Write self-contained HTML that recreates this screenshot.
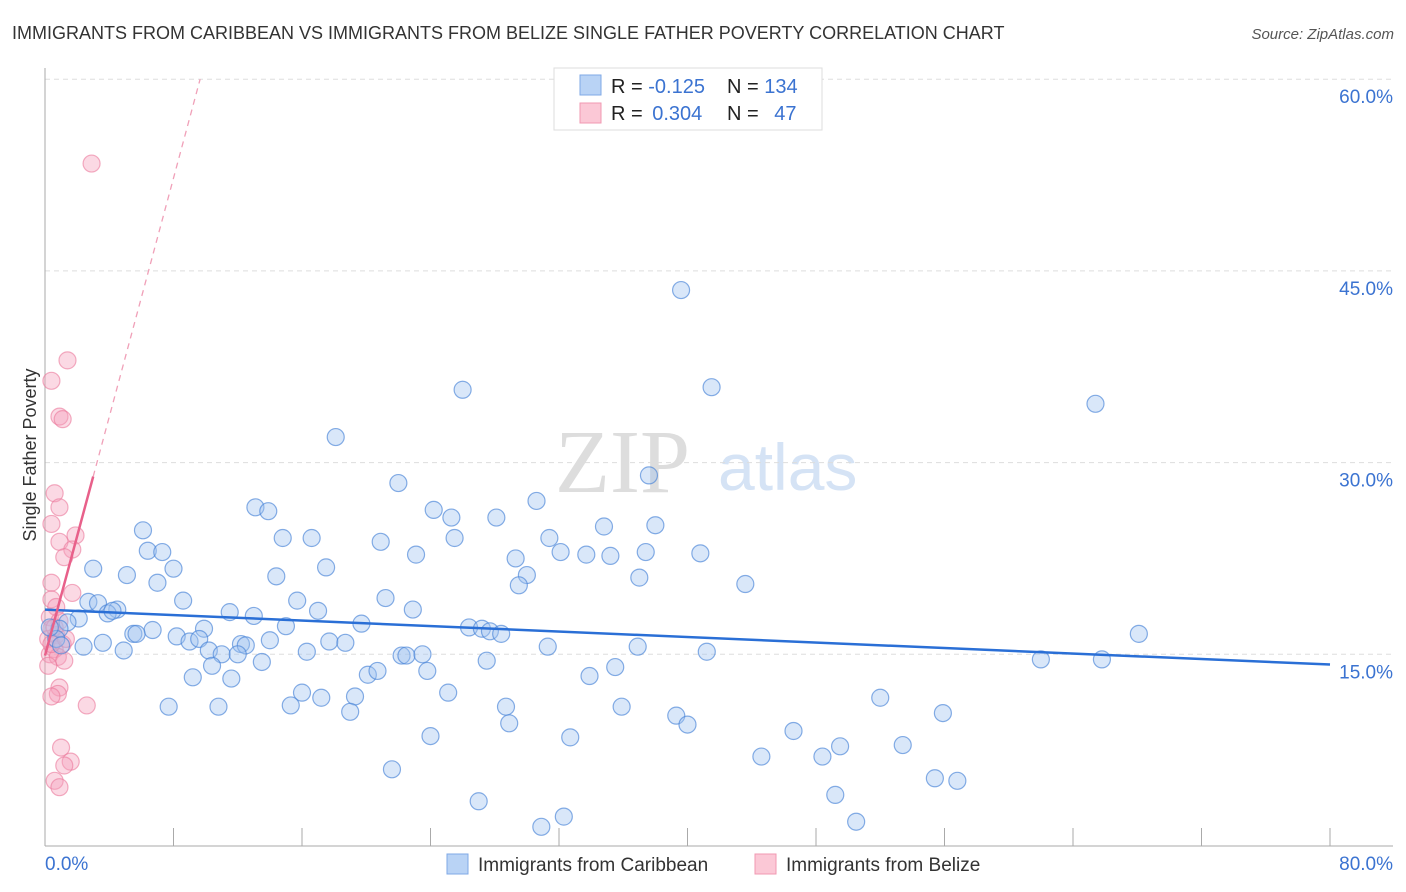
<!DOCTYPE html>
<html><head><meta charset="utf-8"><style>
body{margin:0;background:#fff;font-family:"Liberation Sans",sans-serif}
svg{display:block}
</style></head><body>
<svg id="chart" width="1406" height="892" xmlns="http://www.w3.org/2000/svg">
<text x="12" y="39" font-size="18" fill="#333">IMMIGRANTS FROM CARIBBEAN VS IMMIGRANTS FROM BELIZE SINGLE FATHER POVERTY CORRELATION CHART</text>
<text x="1394" y="39" font-size="15" fill="#555" font-style="italic" text-anchor="end">Source: ZipAtlas.com</text>
<g>
<text x="555" y="492" font-size="90" fill="#ddd" font-family="Liberation Serif,serif">ZIP</text>
<text x="718" y="490" font-size="66" fill="#d5e3f5">atlas</text>
</g>
<g id="grid"></g>
<g id="axes"></g>
<g id="pinkPts"></g>
<g id="bluePts"></g>
<g id="trends"></g>
<text x="36" y="455" font-size="18" fill="#333" text-anchor="middle" transform="rotate(-90 36 455)">Single Father Poverty</text>
<g>
<rect x="554" y="68" width="268" height="62" fill="#fff" stroke="#ddd"/>
<rect x="580" y="75" width="21" height="20" fill="#b9d3f5" stroke="#7fa8e6"/>
<rect x="580" y="103" width="21" height="20" fill="#fbc8d6" stroke="#f098b2"/>
<text x="611" y="93" font-size="20" fill="#222">R = <tspan fill="#3b73d1">-0.125</tspan></text>
<text x="727" y="93" font-size="20" fill="#222">N = <tspan fill="#3b73d1">134</tspan></text>
<text x="611" y="120" font-size="20" fill="#222">R = <tspan fill="#3b73d1" dx="4">0.304</tspan></text>
<text x="727" y="120" font-size="20" fill="#222">N = <tspan fill="#3b73d1" dx="10">47</tspan></text>
</g>
<g>
<rect x="447" y="854" width="21" height="20" fill="#b9d3f5" stroke="#7fa8e6"/>
<text x="478" y="871" font-size="19" fill="#333">Immigrants from Caribbean</text>
<rect x="755" y="854" width="21" height="20" fill="#fbc8d6" stroke="#f098b2"/>
<text x="786" y="871" font-size="19" fill="#333">Immigrants from Belize</text>
</g>
</svg>
<script>
const yTicks=[15,30,45,60];
const yTickLabels=["15.0%","30.0%","45.0%","60.0%"];
const xTickVals=[0,8,16,24,32,40,48,56,64,72,80];
const blueX=[39.6,41.5,26.0,65.4,18.1,37.6,22.0,30.6,13.1,13.9,24.2,25.3,28.1,34.8,38.0,6.1,14.8,16.6,20.9,25.5,31.4,6.4,7.3,23.1,32.1,33.7,35.2,37.4,40.8,29.3,3.0,8.0,17.5,5.1,14.4,30.0,37.0,7.0,29.5,43.6,21.2,8.6,15.7,2.7,3.3,4.5,3.9,4.2,11.5,13.0,17.0,22.9,2.1,1.4,0.9,19.7,15.0,9.9,6.7,5.5,5.7,8.2,9.0,9.6,14.0,17.7,18.7,12.2,12.5,3.6,2.4,4.9,10.2,11.0,12.0,16.3,22.2,22.5,23.5,26.4,27.2,27.7,28.4,31.3,36.9,41.2,62.0,65.8,68.1,10.4,13.5,27.5,35.5,20.1,20.7,23.8,9.2,11.6,33.9,16.0,25.1,17.2,19.3,52.0,15.3,7.7,10.8,19.0,28.7,35.9,39.3,55.9,40.0,28.9,24.0,32.7,46.6,49.5,53.4,44.6,48.4,21.6,55.4,56.8,49.2,27.0,32.3,30.9,50.5,0.7,1.0,0.3];
const blueY=[43.5,35.9,35.7,34.6,32.0,29.0,28.4,27.0,26.5,26.2,26.3,25.7,25.7,25.0,25.1,24.7,24.1,24.1,23.8,24.1,24.1,23.1,23.0,22.8,23.0,22.8,22.7,23.0,22.9,22.5,21.7,21.7,21.8,21.2,21.1,21.2,21.0,20.6,20.4,20.5,19.4,19.2,19.2,19.1,19.0,18.5,18.2,18.4,18.3,18.0,18.4,18.5,17.8,17.5,17.0,17.4,17.2,17.0,16.9,16.6,16.6,16.4,16.0,16.2,16.1,16.0,15.9,15.8,15.7,15.9,15.6,15.3,15.3,15.0,15.0,15.2,14.9,14.9,15.0,17.1,17.0,16.8,16.6,15.6,15.6,15.2,14.6,14.6,16.6,14.1,14.4,14.5,14.0,13.4,13.7,13.7,13.2,13.1,13.3,12.0,12.0,11.6,11.7,11.6,11.0,10.9,10.9,10.5,10.9,10.9,10.2,10.4,9.5,9.6,8.6,8.5,9.0,7.8,7.9,7.0,7.0,6.0,5.3,5.1,4.0,3.5,2.3,1.5,1.9,16.2,15.7,17.1];
const pinkX=[2.9,1.4,0.4,0.9,1.1,0.6,0.9,0.4,1.9,0.9,1.7,1.2,0.4,1.7,0.4,0.7,0.3,0.9,0.4,0.7,0.2,1.1,0.6,0.3,0.8,1.2,0.2,0.9,0.8,0.4,2.6,1.0,1.6,1.2,0.6,0.9,0.6,0.4,1.3];
const pinkY=[53.4,38.0,36.4,33.6,33.4,27.6,26.5,25.2,24.3,23.8,23.2,22.6,20.6,19.8,19.3,18.7,17.9,17.6,17.0,16.5,16.2,15.8,15.4,15.0,14.8,14.5,14.1,12.4,11.9,11.7,11.0,7.7,6.6,6.3,5.1,4.6,17.1,15.8,16.2];
const blueTrend=[18.5,14.2]; // y at x=0 and x=80
const pinkTrend=[14.9,4.67]; // intercept, slope
const pinkSolidEnd=3.0;
const X0=45,X1=1330,YB=846,YS=12.78;
const sx=v=>X0+(X1-X0)*v/80, sy=v=>YB-v*YS;
const NS="http://www.w3.org/2000/svg";
function mk(t,a,p){const e=document.createElementNS(NS,t);for(const k in a)e.setAttribute(k,a[k]);p.appendChild(e);return e;}
const grid=document.getElementById('grid');
yTicks.forEach((v,i)=>{
 const l=mk('line',{x1:45,x2:1393,y1:sy(v),y2:sy(v),stroke:'#ddd','stroke-dasharray':'5,4'},grid);
 
 
 const t=mk('text',{x:1393,y:sy(v)+24,'font-size':19,fill:'#3b73d1','text-anchor':'end'},grid);
 t.textContent=yTickLabels[i];
 
 
});
const ax=document.getElementById('axes');
let a=mk('line',{x1:45,x2:45,y1:68,y2:846,stroke:'#aaa'},ax);


a=mk('line',{x1:45,x2:1393,y1:846,y2:846,stroke:'#aaa'},ax);


xTickVals.forEach(v=>{
 const t=mk('line',{x1:sx(v),x2:sx(v),y1:828,y2:846,stroke:'#aaa'},ax);
 
 
});
let lb=mk('text',{x:45,y:870,'font-size':19,fill:'#3b73d1'},ax);lb.textContent='0.0%';


lb=mk('text',{x:1393,y:870,'font-size':19,fill:'#3b73d1','text-anchor':'end'},ax);lb.textContent='80.0%';


const pg=document.getElementById('pinkPts');
pinkX.forEach((x,i)=>{const c=mk('circle',{cx:sx(x),cy:sy(pinkY[i]),r:8.5,fill:'rgba(246,160,188,0.4)',stroke:'rgba(235,120,155,0.6)','stroke-width':1.2},pg);
 
 });
const bg=document.getElementById('bluePts');
blueX.forEach((x,i)=>{const c=mk('circle',{cx:sx(x),cy:sy(blueY[i]),r:8.5,fill:'rgba(160,195,240,0.4)',stroke:'rgba(70,130,215,0.65)','stroke-width':1.2},bg);
 
 });
const tg=document.getElementById('trends');
let tl=mk('line',{x1:sx(0),y1:sy(blueTrend[0]),x2:sx(80),y2:sy(blueTrend[1]),stroke:'#2a6fd6','stroke-width':2.5},tg);


const pEnd=(60-pinkTrend[0])/pinkTrend[1];
tl=mk('line',{x1:sx(pinkSolidEnd),y1:sy(pinkTrend[0]+pinkTrend[1]*pinkSolidEnd),x2:sx(pEnd),y2:sy(60),stroke:'#f0a0b8','stroke-width':1.3,'stroke-dasharray':'6,5'},tg);


tl=mk('line',{x1:sx(0),y1:sy(pinkTrend[0]),x2:sx(pinkSolidEnd),y2:sy(pinkTrend[0]+pinkTrend[1]*pinkSolidEnd),stroke:'#e8608a','stroke-width':2.5},tg);


</script>
</body></html>
